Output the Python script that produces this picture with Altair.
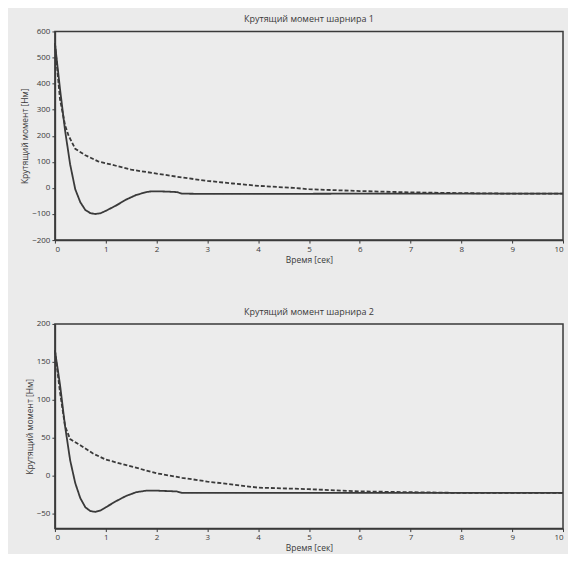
import altair as alt
import pandas as pd

# Joint 1
t1_solid = [0, 0.1, 0.2, 0.3, 0.4, 0.5, 0.6, 0.7, 0.8, 0.9, 1.0, 1.2, 1.4, 1.6, 1.8, 1.9, 2.0, 2.2, 2.4, 2.5, 3, 4, 6, 8, 10]
y1_solid = [555, 380, 220, 90, -5, -55, -85, -97, -100, -97, -88, -68, -45, -27, -16, -13, -13, -14, -16, -22, -23, -23, -22, -22, -22]
t1_dash = [0, 0.1, 0.2, 0.27, 0.4, 0.6, 0.85, 1.2, 1.5, 2.0, 2.5, 3.0, 3.5, 4.0, 4.7, 5.0, 6.0, 7.0, 8.0, 9.0, 10]
y1_dash = [555, 340, 240, 200, 150, 125, 102, 85, 70, 55, 40, 27, 17, 8, 0, -5, -12, -17, -20, -22, -22]

# Joint 2
t2_solid = [0, 0.1, 0.2, 0.3, 0.4, 0.5, 0.6, 0.7, 0.8, 0.9, 1.0, 1.2, 1.4, 1.6, 1.8, 2.0, 2.4, 2.5, 3, 5, 8, 10]
y2_solid = [165, 120, 65, 20, -10, -30, -42, -47, -48, -46, -42, -34, -27, -22, -20, -20, -21, -23, -23, -23, -23, -23]
t2_dash = [0, 0.1, 0.2, 0.3, 0.5, 0.75, 1.0, 1.5, 2.0, 2.5, 3.0, 4.0, 5.0, 6.0, 7.0, 8.0, 10]
y2_dash = [165, 110, 65, 48, 40, 29, 21, 12, 3, -3, -8, -16, -18, -21, -22, -23, -23]

titles = ["Крутящий момент шарнира 1", "Крутящий момент шарнира 2"]
y_title = "Крутящий момент [Нм]"
x_title = "Время [сек]"
x_ticks = list(range(0, 11))
y1_ticks = [-200, -100, 0, 100, 200, 300, 400, 500, 600]
y2_ticks = [-50, 0, 50, 100, 150, 200]

FONT = "Open Sans"
INK = "#3a3a3a"


def panel(title, ts, ys, td, yd, domain, ticks, h):
    df = pd.concat([
        pd.DataFrame({"t": ts, "v": ys, "s": "a"}),
        pd.DataFrame({"t": td, "v": yd, "s": "b"}),
    ])
    return alt.Chart(df).mark_line(strokeWidth=1.8, color=INK).encode(
        x=alt.X("t:Q", scale=alt.Scale(domain=[0, 10], nice=False),
                axis=alt.Axis(values=x_ticks, title=x_title, format="d", labelFlush=True)),
        y=alt.Y("v:Q", scale=alt.Scale(domain=domain, nice=False),
                axis=alt.Axis(values=ticks, title=y_title)),
        strokeDash=alt.StrokeDash("s:N", legend=None,
                                  scale=alt.Scale(domain=["a", "b"], range=[[1, 0], [4, 2]])),
        detail="s:N",
    ).properties(
        width=509, height=h,
        title=alt.TitleParams(title, fontSize=9, fontWeight="normal", font=FONT, color=INK, offset=3),
    )


top = panel(titles[0], t1_solid, y1_solid, t1_dash, y1_dash, [-200, 600], y1_ticks, 209)
bot = panel(titles[1], t2_solid, y2_solid, t2_dash, y2_dash, [-70, 200], y2_ticks, 205)

chart = alt.vconcat(top, bot, spacing=42).properties(
    background="#ebebeb",
    padding={"left": 11, "top": 6, "right": 0, "bottom": 0},
).configure_view(
    stroke=INK, strokeWidth=1.5, fill="#ececec"
).configure_axis(
    grid=False, domainColor=INK, domainWidth=1.5, tickColor=INK, tickSize=3,
    labelFont=FONT, labelFontSize=8, labelColor=INK, labelPadding=2,
    titleFont=FONT, titleFontSize=8.5, titleFontWeight="normal", titleColor=INK,
    titlePadding=2,
)

chart.save("out.html", embed_options={"renderer": "svg", "actions": False})
